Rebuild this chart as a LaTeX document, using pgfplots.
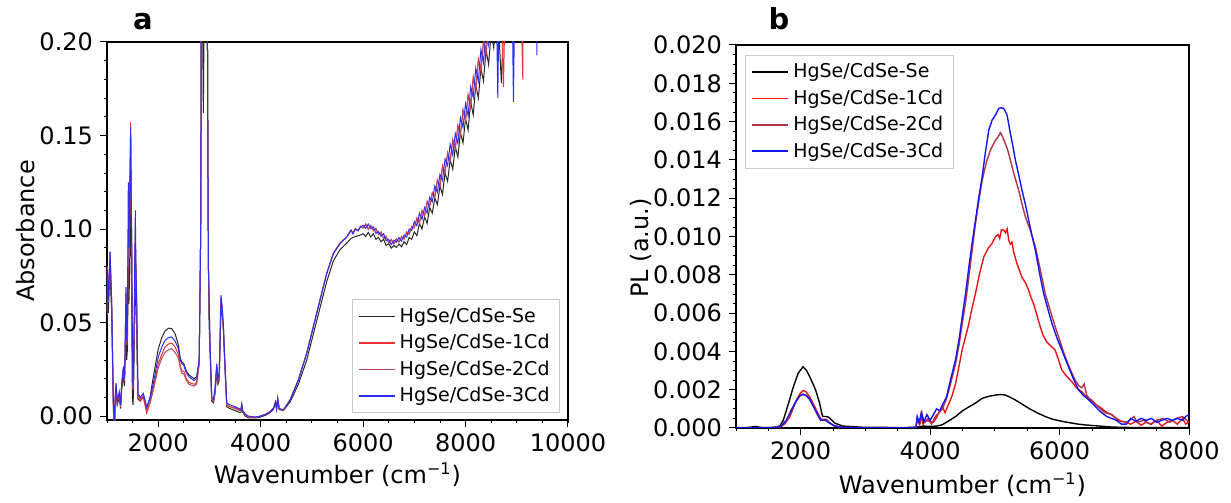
\documentclass[border=0pt]{standalone}
\usepackage{fontspec}
\setmainfont{DejaVu Sans}
\usepackage{pgfplots}
\pgfplotsset{compat=1.18}
\definecolor{cse}{RGB}{0,0,0}
\definecolor{c1}{RGB}{235,20,20}
\definecolor{c2}{RGB}{176,52,72}
\definecolor{c3}{RGB}{20,20,245}
\definecolor{a0}{RGB}{40,40,40}
\definecolor{a1}{RGB}{236,50,50}
\definecolor{a2}{RGB}{185,75,92}
\definecolor{a3}{RGB}{45,45,245}
\pgfplotsset{
 mystyle/.style={
  scale only axis, axis line style={line width=0.7pt},
  tick align=outside, xtick pos=bottom, ytick pos=left,
  major tick length=3.5pt, minor tick length=1.7pt,
  every tick/.style={black, line width=0.5pt},
  every minor tick/.style={black, line width=0.4pt},
  tick label style={font=\fontsize{12}{14}\selectfont},
  label style={font=\fontsize{12}{14}\selectfont},
  scaled x ticks=false, scaled y ticks=false,
  /pgf/number format/assume math mode=true,
  /pgf/number format/1000 sep={},
  legend style={draw=black!20, fill=white,
    font=\fontsize{9.5}{11}\selectfont, inner xsep=3pt, inner ysep=2pt, row sep=0.5pt},
  legend cell align=left,
  legend image code/.code={\draw[##1, line width=0.9pt] (0pt,0pt) -- (18pt,0pt);},
  title style={font=\bfseries\fontsize{14.5}{16}\selectfont, anchor=base},
 }
}
\begin{document}
\begin{tikzpicture}
\path[use as bounding box] (0,0) rectangle (615.5pt,251.5pt);
% ---------------- panel a ----------------
\begin{axis}[mystyle, at={(53.5pt,41.5pt)}, anchor=south west, width=230.5pt, height=189pt,
  xmin=1000, xmax=10000, ymin=-0.0021, ymax=0.2,
  xtick={2000,4000,6000,8000,10000}, minor xtick={1000,1500,...,10000},
  ytick={0,0.05,0.1,0.15,0.2},
  minor ytick={0.01,0.02,0.03,0.04,0.06,0.07,0.08,0.09,0.11,0.12,0.13,0.14,0.16,0.17,0.18,0.19},
  yticklabel style={/pgf/number format/.cd, fixed, fixed zerofill, precision=2},
  xlabel={Wavenumber (cm\textsuperscript{−1})}, ylabel={Absorbance},
  xlabel style={at={(axis description cs:0.5,-0.167)}, anchor=base},
  ylabel style={at={(axis description cs:-0.176,0.5)}, anchor=center},
  title={a}, title style={at={(axis description cs:0.078,1)}},
  legend style={at={(axis description cs:0.9826,0.0185)}, anchor=south east},
  every axis plot/.append style={line width=0.5pt},
]
\addplot[a0] coordinates {(1000,0.050)(1006,0.070)(1026,0.055)(1059,0.078)(1091,0.055)(1124,0.004)(1143,-0.010)(1160,0.006)(1176,0.014)(1200,0.006)(1240,0.010)(1265,0.004)(1287,0.014)(1319,0.022)(1340,0.016)(1352,0.028)(1371,0.050)(1385,0.030)(1397,0.035)(1416,0.080)(1428,0.060)(1436,0.070)(1450,0.095)(1462,0.120)(1472,0.090)(1482,0.060)(1495,0.010)(1508,0.006)(1520,0.015)(1533,0.040)(1553,0.090)(1565,0.060)(1580,0.045)(1595,0.020)(1605,0.009)(1650,0.008)(1709,0.011)(1775,0.004)(1840,0.010)(1905,0.021)(2002,0.036)(2070,0.042)(2133,0.0455)(2200,0.047)(2263,0.0468)(2330,0.044)(2393,0.038)(2430,0.031)(2460,0.029)(2500,0.028)(2550,0.024)(2600,0.022)(2700,0.020)(2750,0.021)(2800,0.030)(2830,0.100)(2850,0.300)(2870,0.200)(2881,0.162)(2895,0.210)(2925,0.350)(2955,0.250)(2968,0.150)(2980,0.080)(2992,0.050)(3010,0.035)(3045,0.008)(3080,0.007)(3110,0.012)(3142,0.024)(3165,0.017)(3190,0.019)(3210,0.040)(3226,0.060)(3250,0.054)(3273,0.045)(3300,0.027)(3338,0.005)(3400,0.004)(3500,0.003)(3580,0.002)(3615,0.002)(3630,0.005)(3650,0.002)(3700,0.000)(3760,-0.001)(3900,-0.001)(4000,-0.0005)(4100,0.0005)(4183,0.0018)(4248,0.0035)(4290,0.007)(4310,0.0035)(4333,0.009)(4360,0.0035)(4443,0.003)(4574,0.0075)(4736,0.017)(4900,0.030)(5030,0.044)(5160,0.058)(5291,0.072)(5420,0.083)(5550,0.089)(5681,0.0925)(5765,0.095)(5850,0.096)(5950,0.0968)
(6000,.0975)(6050,.0960)(6100,.0982)(6150,.0958)(6200,.0975)(6250,.0945)(6300,.0955)(6350,.0932)(6400,.0945)(6450,.0912)(6500,.0922)(6550,.0898)(6600,.0912)(6650,.0902)(6700,.0920)(6750,.0905)(6800,.0933)(6850,.0917)(6900,.0955)(6950,.0945)(7000,.0985)(7050,.0965)(7100,.1030)(7150,.1000)(7200,.1065)(7250,.1030)(7300,.1115)(7350,.1085)(7400,.1165)(7450,.1130)(7500,.1230)(7550,.1185)(7600,.1300)(7650,.1255)(7700,.1370)(7750,.1320)(7800,.1440)(7850,.1385)(7900,.1515)(7950,.1460)(8000,.1590)(8050,.1530)(8100,.1680)(8150,.1610)(8200,.1770)(8250,.1700)(8300,.1860)(8350,.1790)(8400,.1960)(8450,.1880)(8500,.2050)(8550,.1970)(8600,.2140)(8650,.2060)(8700,.1780)(8750,.2150)(8850,.2300)(9000,.2450)(9200,.2600)};
\addlegendentry{HgSe/CdSe-Se}
\addplot[a1] coordinates {(1000,0.056)(1006,0.080)(1026,0.063)(1059,0.0880)(1091,0.060)(1124,0.007)(1143,-0.010)(1160,0.008)(1176,0.016)(1200,0.007)(1240,0.012)(1265,0.005)(1287,0.016)(1319,0.025)(1340,0.019)(1352,0.032)(1371,0.066)(1385,0.038)(1397,0.044)(1416,0.090)(1428,0.085)(1436,0.100)(1450,0.128)(1462,0.157)(1472,0.118)(1482,0.090)(1495,0.035)(1508,0.014)(1520,0.028)(1533,0.050)(1553,0.095)(1565,0.075)(1580,0.058)(1595,0.028)(1605,0.010)(1650,0.008)(1709,0.010)(1775,0.0015)(1840,0.007)(1905,0.015)(2002,0.028)(2070,0.033)(2133,0.037)(2200,0.0385)(2263,0.039)(2330,0.037)(2393,0.033)(2430,0.027)(2460,0.024)(2500,0.024)(2550,0.020)(2600,0.018)(2700,0.017)(2750,0.018)(2800,0.028)(2830,0.100)(2850,0.300)(2870,0.250)(2885,0.230)(2900,0.260)(2925,0.350)(2955,0.250)(2968,0.150)(2980,0.080)(2992,0.062)(3010,0.038)(3045,0.009)(3080,0.008)(3110,0.014)(3142,0.026)(3165,0.019)(3190,0.021)(3210,0.043)(3226,0.062)(3250,0.056)(3273,0.047)(3300,0.029)(3338,0.006)(3400,0.005)(3500,0.004)(3580,0.003)(3615,0.003)(3630,0.006)(3650,0.0025)(3700,0.0005)(3760,-0.0005)(3900,-0.0008)(4000,0.000)(4100,0.001)(4183,0.0023)(4248,0.004)(4290,0.0075)(4310,0.004)(4333,0.0094)(4360,0.004)(4443,0.0032)(4574,0.0087)(4736,0.0195)(4900,0.0340)(5030,0.0482)(5160,0.0625)(5291,0.0766)(5420,0.0872)(5550,0.0925)(5681,0.0960)(5765,0.0995)(5800,0.0978)(5850,0.1003)(5900,0.0993)(5950,0.1015)
(6000,.1005)(6050,.1028)(6100,.1000)(6150,.1020)(6200,.0990)(6250,.1005)(6300,.0970)(6350,.0985)(6400,.0950)(6450,.0962)(6500,.0925)(6550,.0945)(6600,.0920)(6650,.0948)(6700,.0930)(6750,.0960)(6800,.0945)(6850,.0985)(6900,.0972)(6950,.1015)(7000,.1005)(7050,.1060)(7100,.1030)(7150,.1100)(7200,.1070)(7250,.1150)(7300,.1120)(7350,.1195)(7400,.1170)(7450,.1265)(7500,.1225)(7550,.1340)(7600,.1300)(7650,.1410)(7700,.1360)(7750,.1480)(7800,.1425)(7850,.1555)(7900,.1500)(7950,.1640)(8000,.1575)(8050,.1720)(8100,.1650)(8150,.1815)(8200,.1740)(8250,.1910)(8300,.1840)(8350,.2010)(8400,.1930)(8450,.2100)(8500,.2020)(8550,.2190)(8600,.2110)(8650,.2280)(8700,.2200)(8740,.1760)(8780,.2330)(8850,.2450)(8950,.2400)(9050,.2580)(9118,.1800)(9130,.2600)(9250,.2700)(9400,.2800)};
\addlegendentry{HgSe/CdSe-1Cd}
\addplot[a2] coordinates {(1000,0.054)(1006,0.076)(1026,0.061)(1059,0.0860)(1091,0.061)(1124,0.008)(1143,-0.009)(1160,0.009)(1176,0.017)(1200,0.008)(1240,0.012)(1265,0.006)(1287,0.017)(1319,0.025)(1340,0.019)(1352,0.032)(1371,0.065)(1385,0.039)(1397,0.045)(1416,0.095)(1428,0.086)(1436,0.102)(1450,0.126)(1462,0.150)(1472,0.116)(1482,0.092)(1495,0.037)(1508,0.015)(1520,0.029)(1533,0.052)(1553,0.100)(1565,0.076)(1580,0.059)(1595,0.029)(1605,0.011)(1650,0.009)(1709,0.011)(1775,0.003)(1840,0.007)(1905,0.014)(2002,0.026)(2070,0.031)(2133,0.034)(2200,0.0355)(2263,0.036)(2330,0.034)(2393,0.031)(2430,0.026)(2460,0.023)(2500,0.0225)(2550,0.019)(2600,0.017)(2700,0.016)(2750,0.017)(2800,0.028)(2830,0.100)(2850,0.300)(2870,0.250)(2885,0.230)(2900,0.260)(2925,0.350)(2955,0.250)(2968,0.150)(2980,0.080)(2992,0.064)(3010,0.039)(3045,0.009)(3080,0.008)(3110,0.014)(3142,0.027)(3165,0.019)(3190,0.021)(3210,0.044)(3226,0.063)(3250,0.057)(3273,0.047)(3300,0.029)(3338,0.006)(3400,0.005)(3500,0.0045)(3580,0.0035)(3615,0.003)(3630,0.006)(3650,0.0028)(3700,0.0008)(3760,-0.0003)(3900,-0.0006)(4000,0.000)(4100,0.001)(4183,0.0023)(4248,0.004)(4290,0.0075)(4310,0.004)(4333,0.0094)(4360,0.004)(4443,0.0032)(4574,0.0086)(4736,0.0193)(4900,0.0337)(5030,0.0479)(5160,0.0622)(5291,0.0764)(5420,0.0870)(5550,0.0923)(5681,0.0958)(5765,0.0993)(5800,0.0976)(5850,0.1001)(5900,0.0991)(5950,0.1013)
(6000,.1008)(6050,.1022)(6100,.0998)(6150,.1018)(6200,.0995)(6250,.1000)(6300,.0975)(6350,.0980)(6400,.0948)(6450,.0958)(6500,.0928)(6550,.0940)(6600,.0922)(6650,.0945)(6700,.0932)(6750,.0955)(6800,.0950)(6850,.0980)(6900,.0975)(6950,.1010)(7000,.1010)(7050,.1055)(7100,.1040)(7150,.1095)(7200,.1075)(7250,.1140)(7300,.1125)(7350,.1190)(7400,.1175)(7450,.1255)(7500,.1235)(7550,.1330)(7600,.1305)(7650,.1400)(7700,.1370)(7750,.1470)(7800,.1435)(7850,.1545)(7900,.1510)(7950,.1630)(8000,.1590)(8050,.1710)(8100,.1665)(8150,.1800)(8200,.1760)(8250,.1900)(8300,.1860)(8350,.2000)(8400,.1960)(8500,.2130)(8600,.2200)(8700,.2320)(8800,.2380)(9000,.2500)(9300,.2750)};
\addlegendentry{HgSe/CdSe-2Cd}
\addplot[a3] coordinates {(1000,0.055)(1006,0.078)(1026,0.062)(1059,0.0877)(1091,0.062)(1124,0.0085)(1143,-0.009)(1160,0.010)(1176,0.0176)(1200,0.008)(1240,0.013)(1265,0.006)(1287,0.0176)(1319,0.0263)(1340,0.020)(1352,0.0335)(1371,0.069)(1385,0.040)(1397,0.046)(1416,0.125)(1428,0.090)(1436,0.1064)(1450,0.130)(1462,0.1545)(1472,0.120)(1482,0.0975)(1495,0.040)(1508,0.0157)(1520,0.030)(1533,0.0548)(1553,0.110)(1565,0.080)(1580,0.062)(1595,0.030)(1605,0.0121)(1650,0.010)(1709,0.0121)(1775,0.005)(1840,0.0094)(1905,0.0175)(2002,0.0317)(2070,0.0370)(2133,0.0405)(2200,0.0420)(2263,0.0423)(2330,0.0400)(2393,0.0361)(2430,0.0300)(2460,0.0280)(2500,0.0270)(2550,0.0230)(2600,0.0210)(2700,0.0190)(2750,0.0200)(2800,0.0300)(2830,0.100)(2850,0.300)(2870,0.250)(2885,0.230)(2900,0.260)(2925,0.350)(2955,0.250)(2968,0.150)(2980,0.080)(2992,0.067)(3010,0.040)(3045,0.010)(3080,0.009)(3110,0.015)(3142,0.028)(3165,0.020)(3190,0.022)(3210,0.045)(3226,0.0646)(3250,0.058)(3273,0.048)(3300,0.030)(3338,0.007)(3400,0.006)(3500,0.005)(3580,0.004)(3615,0.0035)(3630,0.0065)(3650,0.003)(3700,0.001)(3760,0.000)(3900,-0.0005)(4000,0.000)(4100,0.001)(4183,0.0023)(4248,0.004)(4290,0.0075)(4310,0.004)(4333,0.0094)(4360,0.004)(4443,0.0032)(4574,0.0085)(4736,0.0192)(4900,0.0335)(5030,0.0477)(5160,0.062)(5291,0.0762)(5420,0.0869)(5550,0.0922)(5681,0.0957)(5765,0.0993)(5800,0.0975)(5850,0.1000)(5900,0.0990)(5950,0.1012)
(6000,.1020)(6050,.1003)(6100,.1027)(6150,.1002)(6200,.1012)(6250,.0977)(6300,.0987)(6350,.0962)(6400,.0975)(6450,.0937)(6500,.0945)(6550,.0917)(6600,.0940)(6650,.0930)(6700,.0955)(6750,.0935)(6800,.0968)(6850,.0957)(6900,.1000)(6950,.0992)(7000,.1040)(7050,.1018)(7100,.1085)(7150,.1052)(7200,.1115)(7250,.1085)(7300,.1170)(7350,.1145)(7400,.1230)(7450,.1196)(7500,.1292)(7550,.1259)(7600,.1375)(7650,.1339)(7700,.1453)(7750,.1396)(7800,.1510)(7850,.1458)(7900,.1595)(7950,.1543)(8000,.1670)(8050,.1605)(8100,.1760)(8150,.1705)(8200,.1860)(8250,.1790)(8300,.1960)(8350,.1890)(8400,.2060)(8450,.1985)(8500,.2150)(8550,.2075)(8600,.2240)(8630,.1700)(8650,.2160)(8700,.2330)(8750,.2250)(8800,.2410)(8850,.2330)(8900,.2480)(8935,.1680)(8970,.2450)(9050,.2560)(9150,.2620)(9250,.2700)(9380,.2780)(9392,.1930)(9405,.2800)(9500,.2900)};
\addlegendentry{HgSe/CdSe-3Cd}
\end{axis}
% ---------------- panel b ----------------
\begin{axis}[mystyle, at={(368pt,37.5pt)}, anchor=south west, width=226.5pt, height=191.5pt,
  xmin=1000, xmax=8000, ymin=0, ymax=0.02,
  xtick={2000,4000,6000,8000}, minor xtick={1000,1500,...,8000},
  ytick={0,0.002,0.004,0.006,0.008,0.010,0.012,0.014,0.016,0.018,0.020},
  minor ytick={0.0005,0.001,0.0015,0.0025,0.003,0.0035,0.0045,0.005,0.0055,0.0065,0.007,0.0075,0.0085,0.009,0.0095,0.0105,0.011,0.0115,0.0125,0.013,0.0135,0.0145,0.015,0.0155,0.0165,0.017,0.0175,0.0185,0.019,0.0195},
  yticklabel style={/pgf/number format/.cd, fixed, fixed zerofill, precision=3},
  xlabel={Wavenumber (cm\textsuperscript{−1})}, ylabel={PL (a.u.)},
  xlabel style={at={(axis description cs:0.5,-0.17)}, anchor=base},
  ylabel style={at={(axis description cs:-0.21,0.47)}, anchor=center},
  title={b}, title style={at={(axis description cs:0.095,1)}, yshift=1.5pt},
  legend style={at={(axis description cs:0.02,0.974)}, anchor=north west},
  every axis plot/.append style={line width=0.7pt},
]
\addplot[cse] coordinates {(1000,0.00002)(1200,0.00003)(1300,0.00008)(1400,0.00002)(1523,0.00002)(1600,0.00005)(1677,0.0001)(1730,0.0004)(1780,0.00094)(1830,0.0015)(1882,0.0021)(1959,0.00285)(2036,0.0032)(2090,0.0030)(2139,0.00268)(2190,0.0023)(2231,0.00198)(2292,0.00129)(2330,0.0007)(2344,0.0006)(2395,0.0006)(2420,0.00058)(2446,0.00052)(2523,0.00026)(2651,0.0001)(2959,0.00004)(3300,0.00003)(3600,0.00002)(3800,0.00005)(3900,0.0001)(4000,0.00008)(4100,0.0001)(4189,0.00017)(4300,0.0004)(4394,0.0006)(4500,0.0009)(4599,0.0011)(4700,0.0013)(4804,0.00155)(4900,0.00165)(5009,0.00172)(5090,0.00175)(5163,0.00172)(5240,0.0016)(5317,0.00146)(5420,0.00125)(5522,0.00103)(5650,0.0008)(5778,0.0006)(5900,0.00045)(6035,0.00035)(6150,0.00028)(6291,0.0002)(6400,0.00016)(6547,0.00012)(6700,0.00008)(6804,0.00005)(7000,0.00003)(7500,0.00002)(8000,0.00002)};
\addlegendentry{HgSe/CdSe-Se}
\addplot[c1] coordinates {(1000,0.00001)(1500,0.00001)(1677,0.00005)(1750,0.0002)(1831,0.00059)(1880,0.0010)(1933,0.00146)(1990,0.0018)(2036,0.00195)(2080,0.0019)(2139,0.00162)(2190,0.0013)(2241,0.00094)(2290,0.0006)(2318,0.00045)(2350,0.00045)(2395,0.00045)(2440,0.0003)(2498,0.00014)(2600,0.00005)(2700,0.00002)(3000,0.00001)(3500,0.00001)(3780,0.00002)(3800,0.0005)(3830,0.0002)(3860,0.00078)(3890,0.0002)(3930,0.0004)(3980,0.00035)(4050,0.0003)(4100,0.00055)(4150,0.0009)(4189,0.0011)(4230,0.0008)(4291,0.00129)(4340,0.0017)(4394,0.00233)(4450,0.0033)(4496,0.0041)(4550,0.0048)(4599,0.00547)(4650,0.0063)(4701,0.00703)(4760,0.0080)(4829,0.00894)(4900,0.0094)(4958,0.00964)(5009,0.00999)(5050,0.0101)(5075,0.0099)(5100,0.01035)(5137,0.01034)(5165,0.0102)(5190,0.0104)(5215,0.0098)(5240,0.0096)(5265,0.0097)(5290,0.0092)(5340,0.0086)(5419,0.00787)(5470,0.0076)(5522,0.0072)(5560,0.0068)(5599,0.00648)(5650,0.0059)(5702,0.00527)(5750,0.0048)(5804,0.00449)(5860,0.0043)(5932,0.00407)(5980,0.0036)(6035,0.00303)(6110,0.0027)(6189,0.00242)(6260,0.0021)(6342,0.0019)(6420,0.0016)(6496,0.00146)(6570,0.0012)(6650,0.00103)(6730,0.0008)(6804,0.0007)(6880,0.0005)(6958,0.00035)(7030,0.0003)(7100,0.0002)(7180,0.00035)(7260,0.00015)(7340,0.0003)(7420,0.0002)(7500,0.0004)(7580,0.0001)(7660,0.0003)(7740,0.0004)(7820,0.0002)(7900,0.0005)(7950,0.0002)(8000,0.00035)};
\addlegendentry{HgSe/CdSe-1Cd}
\addplot[c2] coordinates {(1000,0.00001)(1600,0.00002)(1700,0.0001)(1780,0.0004)(1850,0.0009)(1930,0.0014)(1990,0.00168)(2036,0.00177)(2090,0.0017)(2139,0.0015)(2200,0.0011)(2260,0.0007)(2310,0.0004)(2380,0.0004)(2450,0.00025)(2530,0.0001)(2650,0.00003)(3000,0.00001)(3780,0.00001)(3800,0.0004)(3840,0.0002)(3880,0.0006)(3920,0.0003)(3970,0.0005)(4020,0.0002)(4080,0.0006)(4140,0.0008)(4189,0.001)(4250,0.0015)(4300,0.0021)(4394,0.00338)(4450,0.0044)(4496,0.00547)(4550,0.0066)(4599,0.0079)(4650,0.0093)(4701,0.01068)(4750,0.0118)(4804,0.01294)(4870,0.0139)(4932,0.01451)(5009,0.01503)(5050,0.0152)(5086,0.01542)(5120,0.0152)(5163,0.01484)(5200,0.0145)(5240,0.01399)(5300,0.0132)(5368,0.01242)(5420,0.0117)(5471,0.01103)(5550,0.0103)(5625,0.00947)(5700,0.0083)(5778,0.00703)(5850,0.0062)(5932,0.00529)(6010,0.0045)(6086,0.00372)(6160,0.0031)(6240,0.0025)(6300,0.0022)(6342,0.0021)(6380,0.0023)(6420,0.0017)(6470,0.0015)(6530,0.0013)(6600,0.0011)(6700,0.0008)(6804,0.0007)(6900,0.0004)(6958,0.00035)(7050,0.0003)(7150,0.0006)(7200,0.0003)(7300,0.0004)(7400,0.0002)(7500,0.0004)(7600,0.0005)(7700,0.0003)(7800,0.0005)(7900,0.0006)(8000,0.0003)};
\addlegendentry{HgSe/CdSe-2Cd}
\addplot[c3] coordinates {(1000,0.00001)(1600,0.00001)(1700,0.0001)(1780,0.0004)(1850,0.0009)(1930,0.0014)(1990,0.0017)(2036,0.00175)(2090,0.00168)(2139,0.0015)(2200,0.0011)(2260,0.0007)(2310,0.0004)(2380,0.00042)(2450,0.00025)(2530,0.0001)(2650,0.00003)(3000,0.00001)(3780,0.00001)(3800,0.0006)(3830,0.0003)(3870,0.0008)(3900,0.0003)(3950,0.0007)(4000,0.0004)(4050,0.0007)(4100,0.001)(4150,0.0009)(4189,0.0012)(4250,0.0016)(4300,0.0023)(4394,0.0036)(4450,0.0047)(4496,0.00581)(4550,0.0071)(4599,0.00842)(4650,0.0097)(4701,0.01086)(4750,0.012)(4804,0.01312)(4850,0.0143)(4906,0.01556)(4960,0.0161)(5009,0.01634)(5060,0.01669)(5100,0.01672)(5137,0.01669)(5189,0.01634)(5240,0.01538)(5280,0.0147)(5317,0.01399)(5370,0.0132)(5419,0.01242)(5470,0.0117)(5522,0.01086)(5570,0.0101)(5625,0.00929)(5690,0.0081)(5753,0.00703)(5820,0.0062)(5881,0.00547)(5960,0.0047)(6035,0.00407)(6090,0.0036)(6137,0.0032)(6210,0.0026)(6291,0.002)(6370,0.0017)(6440,0.0015)(6500,0.0013)(6560,0.0011)(6650,0.0008)(6730,0.0006)(6804,0.0005)(6880,0.0004)(6958,0.0002)(7030,0.0002)(7100,0.0005)(7180,0.00035)(7260,0.0005)(7340,0.0004)(7420,0.0005)(7500,0.0003)(7580,0.0004)(7660,0.0005)(7740,0.0004)(7820,0.0005)(7900,0.0004)(7950,0.0006)(8000,0.0007)};
\addlegendentry{HgSe/CdSe-3Cd}
\end{axis}
\end{tikzpicture}
\end{document}
